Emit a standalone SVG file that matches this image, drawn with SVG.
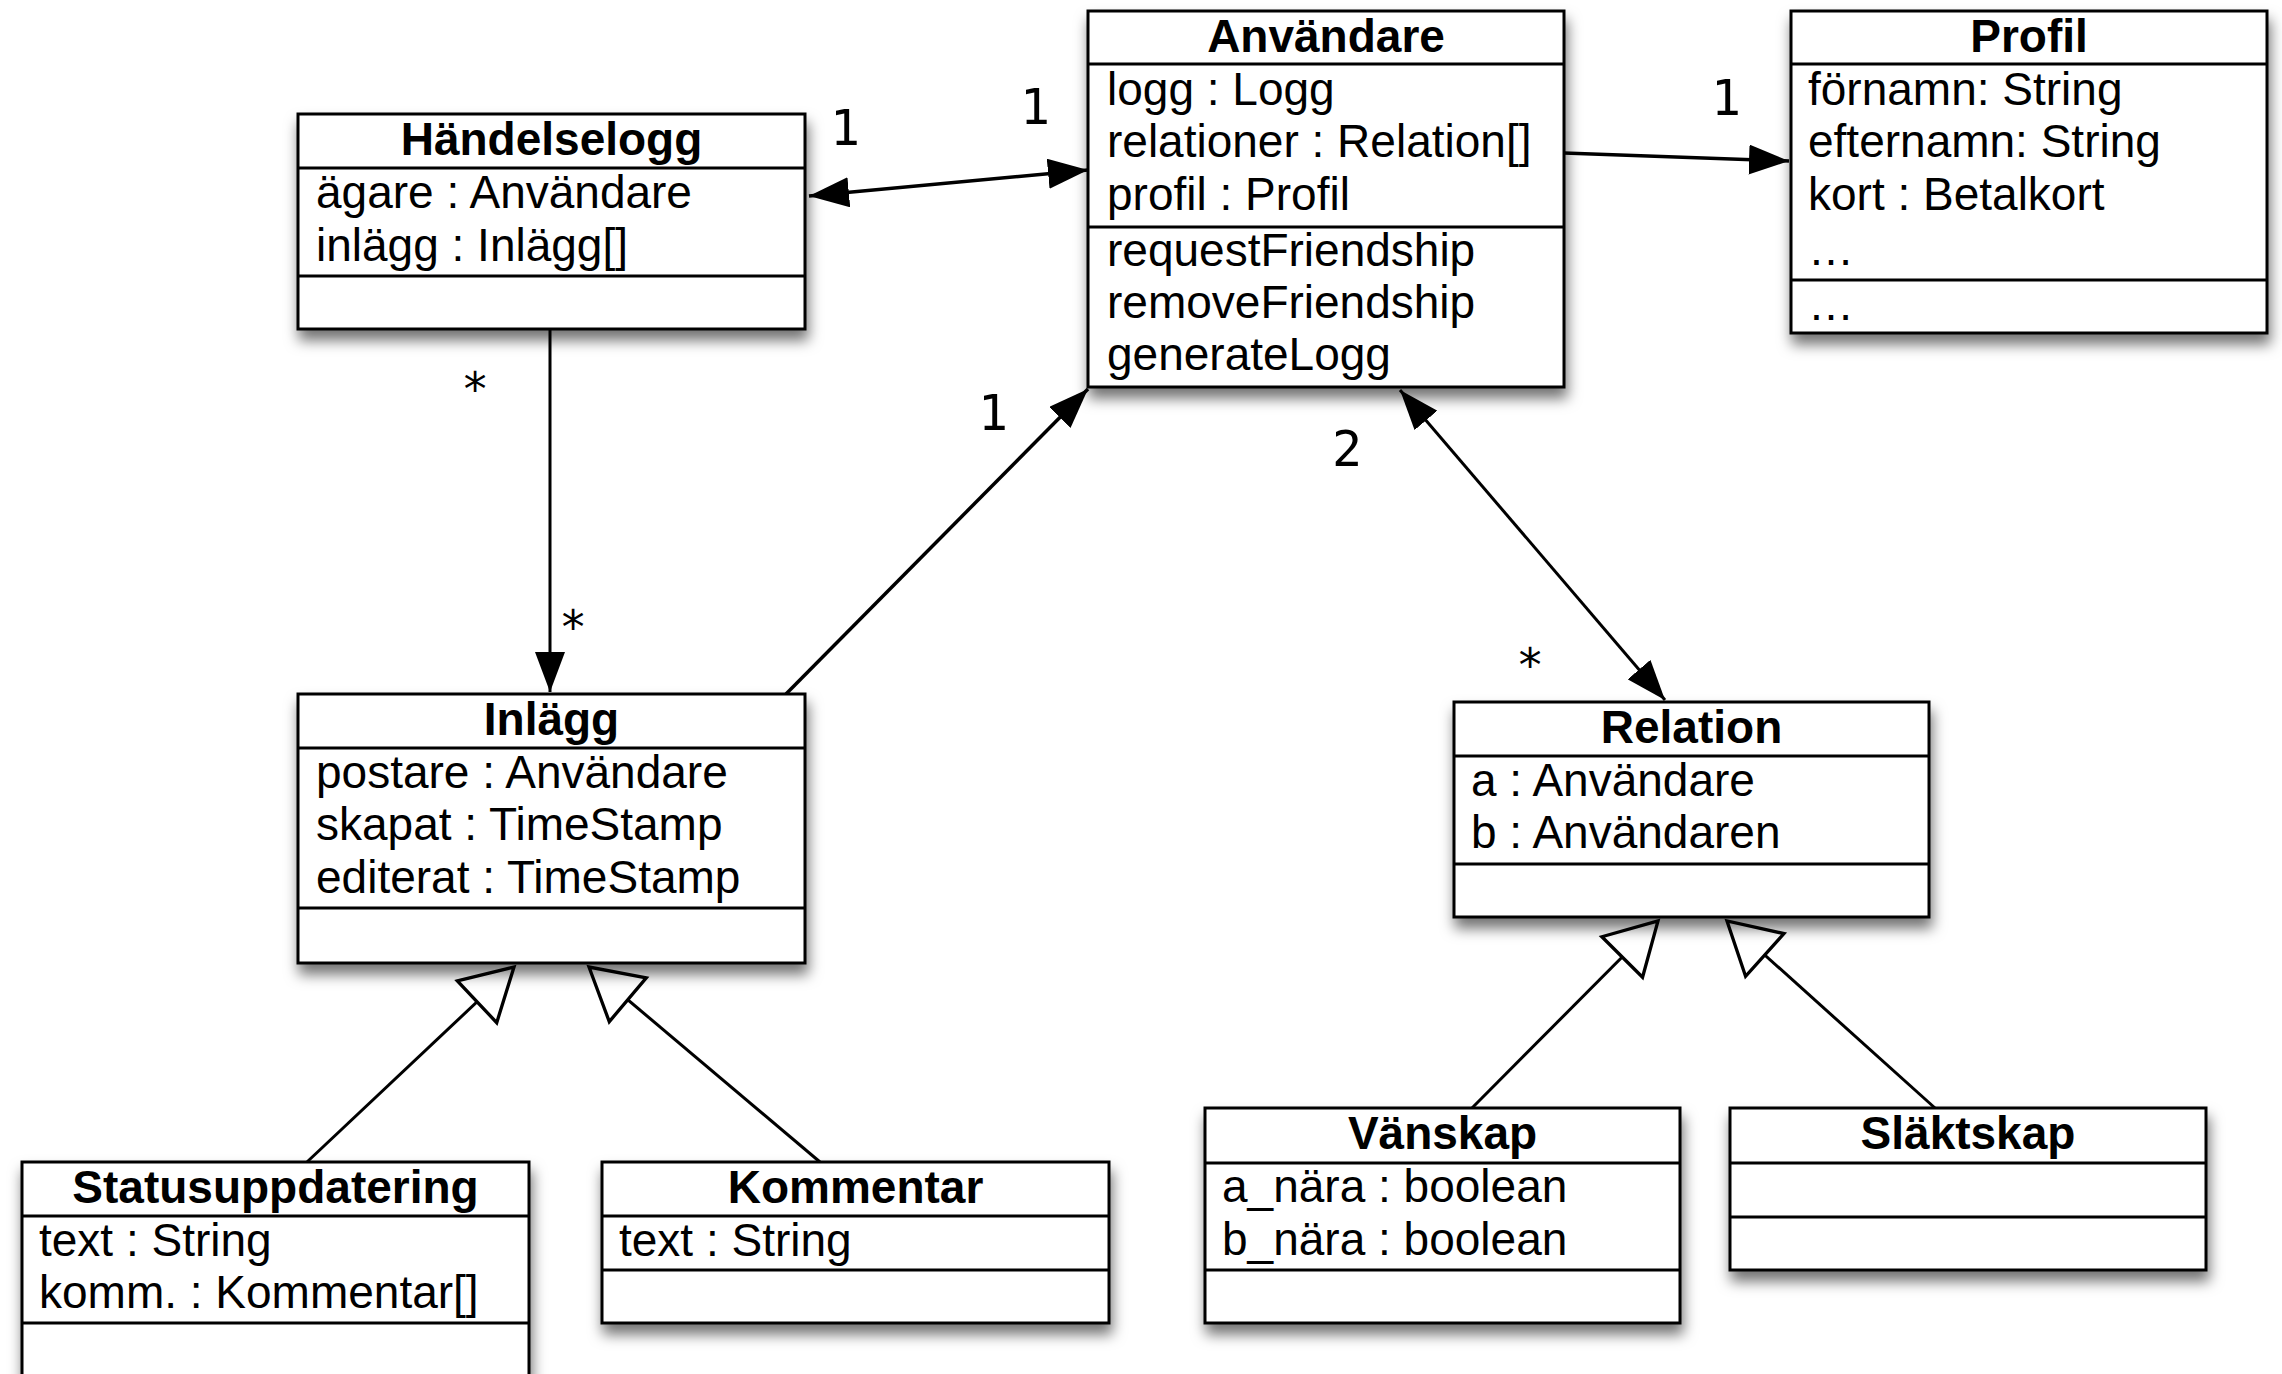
<svg xmlns="http://www.w3.org/2000/svg" width="2282" height="1374" viewBox="0 0 2282 1374">
<style>
.box{fill:#fff;stroke:#000;stroke-width:3;filter:url(#sh)}
.div{stroke:#000;stroke-width:3}
.h{font-family:"Liberation Sans",Arial,sans-serif;font-size:46px;font-weight:bold;text-anchor:middle;fill:#000}
.t{font-family:"Liberation Sans",Arial,sans-serif;font-size:46px;fill:#000}
.m{font-family:"DejaVu Sans Mono",monospace;font-size:50px;text-anchor:middle;fill:#000}
.s{font-family:"DejaVu Sans Mono",monospace;font-size:46px;text-anchor:middle;fill:#000}
.ln{stroke:#000;stroke-width:3.5;fill:none}
.gl{stroke:#000;stroke-width:3;fill:none}
</style>
<defs>
<filter id="sh" x="-10%" y="-10%" width="120%" height="130%">
<feDropShadow dx="2" dy="10" stdDeviation="7" flood-color="#000" flood-opacity="0.55"/>
</filter>
<marker id="arr" markerUnits="userSpaceOnUse" markerWidth="40" markerHeight="30" viewBox="0 0 32 24" refX="32" refY="12" orient="auto-start-reverse">
<path d="M0,0 L32,12 L0,24 Z" fill="#000"/>
</marker>
<marker id="gen" markerUnits="userSpaceOnUse" markerWidth="60" markerHeight="64" viewBox="-3 -3 54 58" refX="46" refY="26" orient="auto">
<path d="M0,0 L46,26 L0,52 Z" fill="#fff" stroke="#000" stroke-width="3"/>
</marker>
</defs>

<g id="connectors">
<line class="ln" x1="809" y1="196" x2="1088" y2="170" marker-start="url(#arr)" marker-end="url(#arr)"/>
<line class="ln" x1="1564" y1="153" x2="1789" y2="161" marker-end="url(#arr)"/>
<line class="gl" x1="550" y1="329" x2="550" y2="692" marker-end="url(#arr)"/>
<line class="ln" x1="786" y1="694" x2="1088" y2="389" marker-end="url(#arr)"/>
<line class="gl" x1="1400" y1="390" x2="1665" y2="700" marker-start="url(#arr)" marker-end="url(#arr)"/>
<line class="gl" x1="307" y1="1162" x2="514" y2="967" marker-end="url(#gen)"/>
<line class="gl" x1="820" y1="1162" x2="589" y2="967" marker-end="url(#gen)"/>
<line class="gl" x1="1472" y1="1108" x2="1658" y2="921" marker-end="url(#gen)"/>
<line class="gl" x1="1935" y1="1108" x2="1727" y2="921" marker-end="url(#gen)"/>
<text class="m" x="845" y="145">1</text>
<text class="m" x="1035" y="124">1</text>
<text class="m" x="1726" y="115">1</text>
<text class="m" x="993" y="430">1</text>
<text class="m" x="1347" y="466">2</text>
<text class="s" x="475" y="405">*</text>
<text class="s" x="573" y="643">*</text>
<text class="s" x="1530" y="681">*</text>
</g>

<g id="handelselogg">
<rect class="box" x="298" y="114" width="507" height="215"/>
<line class="div" x1="298" y1="168" x2="805" y2="168"/>
<line class="div" x1="298" y1="276" x2="805" y2="276"/>
<text class="h" x="551.5" y="155">Händelselogg</text>
<text class="t" x="316" y="208">ägare : Användare</text>
<text class="t" x="316" y="261">inlägg : Inlägg[]</text>
</g>

<g id="anvandare">
<rect class="box" x="1088" y="11" width="476" height="376"/>
<line class="div" x1="1088" y1="64" x2="1564" y2="64"/>
<line class="div" x1="1088" y1="227" x2="1564" y2="227"/>
<text class="h" x="1326" y="52">Användare</text>
<text class="t" x="1107" y="105">logg : Logg</text>
<text class="t" x="1107" y="157">relationer : Relation[]</text>
<text class="t" x="1107" y="210">profil : Profil</text>
<text class="t" x="1107" y="266">requestFriendship</text>
<text class="t" x="1107" y="318">removeFriendship</text>
<text class="t" x="1107" y="370">generateLogg</text>
</g>

<g id="profil">
<rect class="box" x="1791" y="11" width="476" height="322"/>
<line class="div" x1="1791" y1="64" x2="2267" y2="64"/>
<line class="div" x1="1791" y1="280" x2="2267" y2="280"/>
<text class="h" x="2029" y="52">Profil</text>
<text class="t" x="1808" y="105">förnamn: String</text>
<text class="t" x="1808" y="157">efternamn: String</text>
<text class="t" x="1808" y="210">kort : Betalkort</text>
<text class="t" x="1808" y="265">…</text>
<text class="t" x="1808" y="320">…</text>
</g>

<g id="inlagg">
<rect class="box" x="298" y="694" width="507" height="269"/>
<line class="div" x1="298" y1="748" x2="805" y2="748"/>
<line class="div" x1="298" y1="908" x2="805" y2="908"/>
<text class="h" x="551.5" y="735">Inlägg</text>
<text class="t" x="316" y="788">postare : Användare</text>
<text class="t" x="316" y="840">skapat : TimeStamp</text>
<text class="t" x="316" y="893">editerat : TimeStamp</text>
</g>

<g id="relation">
<rect class="box" x="1454" y="702" width="475" height="215"/>
<line class="div" x1="1454" y1="756" x2="1929" y2="756"/>
<line class="div" x1="1454" y1="864" x2="1929" y2="864"/>
<text class="h" x="1691.5" y="743">Relation</text>
<text class="t" x="1471" y="796">a : Användare</text>
<text class="t" x="1471" y="848">b : Användaren</text>
</g>

<g id="statusuppdatering">
<rect class="box" x="22" y="1162" width="507" height="240"/>
<line class="div" x1="22" y1="1216" x2="529" y2="1216"/>
<line class="div" x1="22" y1="1323" x2="529" y2="1323"/>
<text class="h" x="275.5" y="1203">Statusuppdatering</text>
<text class="t" x="39" y="1256">text : String</text>
<text class="t" x="39" y="1308">komm. : Kommentar[]</text>
</g>

<g id="kommentar">
<rect class="box" x="602" y="1162" width="507" height="161"/>
<line class="div" x1="602" y1="1216" x2="1109" y2="1216"/>
<line class="div" x1="602" y1="1270" x2="1109" y2="1270"/>
<text class="h" x="855.5" y="1203">Kommentar</text>
<text class="t" x="619" y="1256">text : String</text>
</g>

<g id="vanskap">
<rect class="box" x="1205" y="1108" width="475" height="215"/>
<line class="div" x1="1205" y1="1163" x2="1680" y2="1163"/>
<line class="div" x1="1205" y1="1270" x2="1680" y2="1270"/>
<text class="h" x="1442.5" y="1149">Vänskap</text>
<text class="t" x="1222" y="1202">a_nära : boolean</text>
<text class="t" x="1222" y="1255">b_nära : boolean</text>
</g>

<g id="slaktskap">
<rect class="box" x="1730" y="1108" width="476" height="162"/>
<line class="div" x1="1730" y1="1163" x2="2206" y2="1163"/>
<line class="div" x1="1730" y1="1217" x2="2206" y2="1217"/>
<text class="h" x="1968" y="1149">Släktskap</text>
</g>
</svg>
